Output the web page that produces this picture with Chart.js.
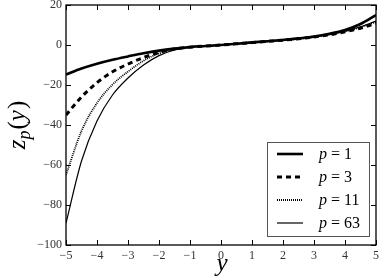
<!DOCTYPE html>
<html>
<head>
<meta charset="utf-8">
<script src="https://cdn.jsdelivr.net/npm/chart.js@4/dist/chart.umd.min.js"></script>
<style>
html,body{margin:0;padding:0;background:#fff;}
canvas{display:block;}
</style>
</head>
<body>
<canvas id="c" width="382" height="277"></canvas>
<script>
// ---- data ----
const xValues = [-5,-4.5,-4,-3.5,-3,-2.5,-2,-1.5,-1,-0.5,0,0.5,1,1.5,2,2.5,3,3.5,4,4.5,5];
const zP1  = [-14.8,-11.8,-9.4,-7.4,-5.7,-4.1,-2.8,-1.8,-1.0,-0.5,0,0.6,1.3,1.9,2.5,3.3,4.2,5.6,7.5,10.5,15.0];
const zP3  = [-35,-26,-18.8,-13.4,-9.5,-6.3,-3.7,-2.0,-1.1,-0.5,0,0.6,1.2,1.8,2.4,3.1,4.0,5.1,6.6,8.4,10.8];
const zP11 = [-65,-43,-29,-19.8,-13.3,-7.9,-4.2,-2.2,-1.1,-0.5,0,0.6,1.2,1.8,2.4,3.1,4.0,5.2,6.8,8.9,11.5];
const zP63 = [-89,-58,-38,-25,-16.5,-10,-5.3,-2.5,-1.2,-0.5,0,0.6,1.2,1.8,2.4,3.1,4.1,5.3,6.9,9.1,12.0];
const seriesLabels = ['1','3','11','63'];
const xTicks = [-5,-4,-3,-2,-1,0,1,2,3,4,5];
const yTicks = [-100,-80,-60,-40,-20,0,20];

const SERIF = '"Liberation Serif", "DejaVu Serif", serif';
const pts = arr => xValues.map((x,i)=>({x:x,y:arr[i]}));
const fmt = v => String(v).replace('-', '\u2212');

function drawRich(ctx, parts, x, y){
  let cx = x;
  for (const p of parts){
    ctx.font = (p.italic?'italic ':'') + p.size + 'px ' + SERIF;
    ctx.fillText(p.t, cx, y + (p.dy||0));
    cx += ctx.measureText(p.t).width + (p.gap||0);
  }
  return cx - x;
}
function measureRich(ctx, parts){
  let w = 0;
  for (const p of parts){
    ctx.font = (p.italic?'italic ':'') + p.size + 'px ' + SERIF;
    w += ctx.measureText(p.t).width + (p.gap||0);
  }
  return w;
}

const framePlugin = {
  id: 'frame',
  afterDatasetsDraw(chart){
    const ctx = chart.ctx, a = chart.chartArea;
    const xs = chart.scales.x, ys = chart.scales.y;
    ctx.save();
    ctx.strokeStyle = '#000';
    ctx.lineWidth = 1.3;
    ctx.strokeRect(a.left, a.top, a.right - a.left, a.bottom - a.top);
    ctx.lineWidth = 1;
    const tl = 5;
    ctx.beginPath();
    xTicks.forEach(v => {
      const px = Math.round(xs.getPixelForValue(v)) + 0.5;
      ctx.moveTo(px, a.bottom); ctx.lineTo(px, a.bottom - tl);
      ctx.moveTo(px, a.top); ctx.lineTo(px, a.top + tl);
    });
    yTicks.forEach(v => {
      const py = Math.round(ys.getPixelForValue(v)) + 0.5;
      ctx.moveTo(a.left, py); ctx.lineTo(a.left + tl, py);
      ctx.moveTo(a.right, py); ctx.lineTo(a.right - tl, py);
    });
    ctx.stroke();

    // legend
    const lx = 267, ly = 142, lw = 102, lh = 94;
    ctx.fillStyle = '#fff';
    ctx.fillRect(lx, ly, lw, lh);
    ctx.strokeStyle = '#555';
    ctx.lineWidth = 1;
    ctx.strokeRect(lx + 0.5, ly + 0.5, lw, lh);
    const rows = [154, 177, 200, 223];
    chart.data.datasets.forEach((ds, i) => {
      const y = rows[i];
      ctx.save();
      ctx.strokeStyle = ds.borderColor;
      ctx.lineWidth = ds.borderWidth;
      ctx.setLineDash(ds.borderDash || []);
      ctx.beginPath();
      ctx.moveTo(277, y); ctx.lineTo(303, y);
      ctx.stroke();
      ctx.restore();
      ctx.fillStyle = '#000';
      ctx.textBaseline = 'middle';
      ctx.textAlign = 'left';
      drawRich(ctx, [
        {t:'p', italic:true, size:16, gap:4},
        {t:'=', size:16, gap:4},
        {t:seriesLabels[i], size:16}
      ], 319, y + 1);
    });

    // axis titles
    ctx.fillStyle = '#000';
    ctx.textBaseline = 'alphabetic';
    ctx.textAlign = 'left';
    ctx.font = 'italic 25px ' + SERIF;
    const yw = ctx.measureText('y').width;
    ctx.fillText('y', (a.left + a.right)/2 - yw/2 + 1, 271);

    const parts = [
      {t:'z', italic:true, size:25},
      {t:'p', italic:true, size:18, dy:5, gap:1},
      {t:'(', size:25},
      {t:'y', italic:true, size:25, gap:1},
      {t:')', size:25}
    ];
    const tw = measureRich(ctx, parts);
    ctx.save();
    ctx.translate(25, 125);
    ctx.rotate(-Math.PI/2);
    drawRich(ctx, parts, -tw/2, 0);
    ctx.restore();
    ctx.restore();
  }
};

const tickFont = {family: SERIF, size: 12};
new Chart(document.getElementById('c'), {
  type: 'line',
  data: {
    datasets: [
      {label:'p = 1', data: pts(zP1), borderColor:'#000', borderWidth:2.6, cubicInterpolationMode:'monotone'},
      {label:'p = 3', data: pts(zP3), borderColor:'#000', borderWidth:3, borderDash:[5,4], cubicInterpolationMode:'monotone'},
      {label:'p = 11', data: pts(zP11), borderColor:'#000', borderWidth:1.8, borderDash:[1,1], cubicInterpolationMode:'monotone'},
      {label:'p = 63', data: pts(zP63), borderColor:'#000', borderWidth:1.2, cubicInterpolationMode:'monotone'}
    ]
  },
  options: {
    responsive: false,
    animation: false,
    layout: {padding: {top:5, right:6, left:0, bottom:0}},
    elements: {point: {radius:0}},
    plugins: {legend: {display:false}, tooltip: {enabled:false}},
    scales: {
      x: {
        type: 'linear', min: -5, max: 5,
        afterBuildTicks(s){ s.ticks = xTicks.map(v => ({value:v})); },
        ticks: {callback: fmt, font: tickFont, color:'#333', padding: 4, maxRotation:0, autoSkip:false},
        grid: {display:false, drawTicks:false}, border: {display:false},
        afterFit(s){ s.height = 32; s.paddingLeft = 0; s.paddingRight = 0; }
      },
      y: {
        type: 'linear', min: -100, max: 20,
        afterBuildTicks(s){ s.ticks = yTicks.map(v => ({value:v})); },
        ticks: {callback: fmt, font: tickFont, color:'#333', padding: 4, autoSkip:false},
        grid: {display:false, drawTicks:false}, border: {display:false},
        afterFit(s){ s.width = 66; s.paddingTop = 0; s.paddingBottom = 0; }
      }
    }
  },
  plugins: [framePlugin]
});
</script>
</body>
</html>
